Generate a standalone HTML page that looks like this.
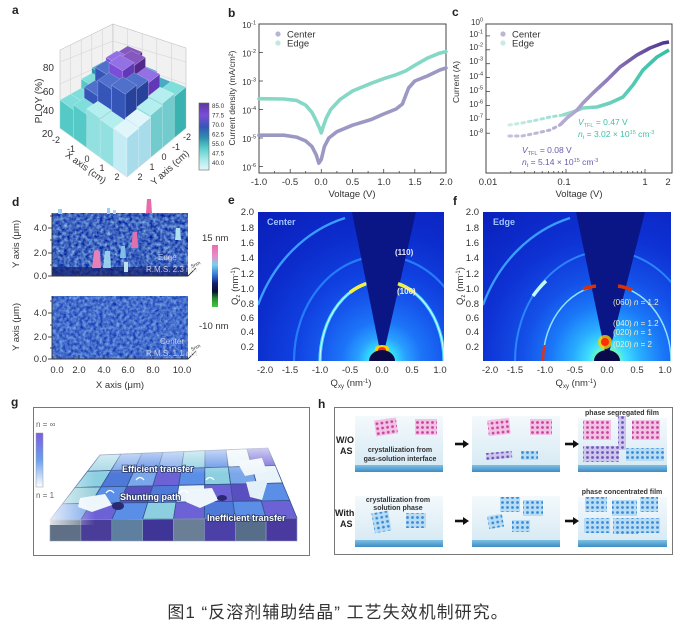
<!DOCTYPE html>
<html><head><meta charset="utf-8">
<style>
html,body{margin:0;padding:0;background:#fff}
svg{display:block}
.t1{fill:#e0f6fb}.l1{fill:#c4ecf5}.r1{fill:#a9dcea}
.t2{fill:#b5eeee}.l2{fill:#92e0e0}.r2{fill:#72cccd}
.t3{fill:#7fdedb}.l3{fill:#55c9c6}.r3{fill:#3cb2b0}
.t4{fill:#4aa9c6}.l4{fill:#2f8fb0}.r4{fill:#237596}
.t5{fill:#5070cc}.l5{fill:#3556b8}.r5{fill:#26429a}
.t6{fill:#9370e4}.l6{fill:#7a4ed8}.r6{fill:#6038b8}
.t7{fill:#8558c0}.l7{fill:#6a3aa8}.r7{fill:#52288c}
.bars polygon{stroke:#ffffff;stroke-opacity:.35;stroke-width:.5}
.tk{font-size:9.5px;fill:#333}
.sm{font-size:8px;fill:#333}
</style></head><body>
<svg width="679" height="621" viewBox="0 0 679 621" xmlns="http://www.w3.org/2000/svg" font-family="'Liberation Sans', sans-serif">
<defs>
<linearGradient id="cbA" x1="0" y1="0" x2="0" y2="1">
<stop offset="0" stop-color="#5f34a0"/><stop offset="0.18" stop-color="#7a4ed8"/><stop offset="0.36" stop-color="#3556b8"/><stop offset="0.52" stop-color="#2f8fb0"/><stop offset="0.68" stop-color="#5ccfcc"/><stop offset="0.84" stop-color="#a8e8ea"/><stop offset="1" stop-color="#e4f7fb"/>
</linearGradient>
<linearGradient id="cbD" x1="0" y1="0" x2="0" y2="1">
<stop offset="0" stop-color="#ea6cb0"/><stop offset="0.18" stop-color="#e88cc8"/><stop offset="0.32" stop-color="#7ad0ea"/><stop offset="0.5" stop-color="#2f6ad0"/><stop offset="0.62" stop-color="#14206a"/><stop offset="0.75" stop-color="#0a0f30"/><stop offset="0.86" stop-color="#2a8a30"/><stop offset="1" stop-color="#40c840"/>
</linearGradient>
<radialGradient id="gE" gradientUnits="userSpaceOnUse" cx="382" cy="361" r="200">
<stop offset="0" stop-color="#ff3000"/><stop offset="0.025" stop-color="#ffe000"/><stop offset="0.045" stop-color="#80ff80"/><stop offset="0.07" stop-color="#30d8ff"/><stop offset="0.12" stop-color="#2aa0ff"/><stop offset="0.2" stop-color="#1c74f8"/><stop offset="0.32" stop-color="#1656ec"/><stop offset="0.45" stop-color="#1040e0"/><stop offset="0.65" stop-color="#0c2ccc"/><stop offset="1" stop-color="#0a1eb8"/>
</radialGradient>
<radialGradient id="gF" gradientUnits="userSpaceOnUse" cx="607" cy="361" r="200">
<stop offset="0" stop-color="#ff3000"/><stop offset="0.025" stop-color="#ffd000"/><stop offset="0.05" stop-color="#80ffa0"/><stop offset="0.09" stop-color="#40e0ff"/><stop offset="0.17" stop-color="#28acff"/><stop offset="0.28" stop-color="#1a78f8"/><stop offset="0.42" stop-color="#1450e8"/><stop offset="0.62" stop-color="#0e32d4"/><stop offset="1" stop-color="#0a1eb8"/>
</radialGradient>
<linearGradient id="cC" gradientUnits="userSpaceOnUse" x1="505" y1="0" x2="670" y2="0">
<stop offset="0" stop-color="#c9c3da"/><stop offset="0.4" stop-color="#b3a9d0"/><stop offset="1" stop-color="#4e3190"/>
</linearGradient>
<linearGradient id="cEd" gradientUnits="userSpaceOnUse" x1="505" y1="0" x2="670" y2="0">
<stop offset="0" stop-color="#cfeee6"/><stop offset="0.5" stop-color="#7fd6c4"/><stop offset="1" stop-color="#2fbfa6"/>
</linearGradient>
<linearGradient id="hb" x1="0" y1="0" x2="0" y2="1"><stop offset="0" stop-color="#f4f9fc"/><stop offset="1" stop-color="#d4e8f3"/></linearGradient>
<linearGradient id="hs" x1="0" y1="0" x2="0" y2="1"><stop offset="0" stop-color="#7ec0e4"/><stop offset="1" stop-color="#3f8cc4"/></linearGradient>
<linearGradient id="gl" x1="0" y1="0" x2="0" y2="1"><stop offset="0" stop-color="#7a5ee0"/><stop offset="0.5" stop-color="#6aa0f0"/><stop offset="1" stop-color="#ffffff"/></linearGradient>
<linearGradient id="fadeV" gradientUnits="userSpaceOnUse" x1="0" y1="438" x2="0" y2="474"><stop offset="0" stop-color="#fff" stop-opacity="0.95"/><stop offset="1" stop-color="#fff" stop-opacity="0"/></linearGradient>
<linearGradient id="fadeH" gradientUnits="userSpaceOnUse" x1="44" y1="0" x2="95" y2="0"><stop offset="0" stop-color="#fff" stop-opacity="0.9"/><stop offset="1" stop-color="#fff" stop-opacity="0"/></linearGradient>
<pattern id="pk" width="5" height="5" patternUnits="userSpaceOnUse"><rect width="5" height="5" fill="#f2c2e4"/><circle cx="2.5" cy="2.5" r="1.4" fill="#c8449e"/></pattern>
<pattern id="bl" width="5" height="5" patternUnits="userSpaceOnUse"><rect width="5" height="5" fill="#b8dcf4"/><circle cx="2.5" cy="2.5" r="1.4" fill="#3a8cd8"/></pattern>
<pattern id="pu" width="5" height="5" patternUnits="userSpaceOnUse"><rect width="5" height="5" fill="#cfc6ec"/><circle cx="2.5" cy="2.5" r="1.4" fill="#6a58bc"/></pattern>
<filter id="nz1" x="0" y="0" width="1" height="1" color-interpolation-filters="sRGB">
<feTurbulence type="fractalNoise" baseFrequency="0.28" numOctaves="3" seed="5"/>
<feColorMatrix type="matrix" values="0.8 0 0 0 -0.15  0.9 0 0 0 -0.05  0.4 0 0 0 0.55  0 0 0 0 1"/>
</filter>
<filter id="nz2" x="0" y="0" width="1" height="1" color-interpolation-filters="sRGB">
<feTurbulence type="fractalNoise" baseFrequency="0.3" numOctaves="3" seed="9"/>
<feColorMatrix type="matrix" values="0.6 0 0 0 -0.03  0.7 0 0 0 0.08  0.3 0 0 0 0.65  0 0 0 0 1"/>
</filter>
<clipPath id="clE"><rect x="258" y="212" width="186" height="149"/></clipPath>
<clipPath id="clF"><rect x="483" y="212" width="188" height="149"/></clipPath>
</defs>
<rect width="679" height="621" fill="#fff"/>

<!-- panel labels -->
<g font-weight="bold" font-size="12" fill="#222">
<text x="12" y="14">a</text><text x="228" y="17">b</text><text x="452" y="16">c</text>
<text x="12" y="206">d</text><text x="228" y="204">e</text><text x="453" y="205">f</text>
<text x="11" y="406">g</text><text x="318" y="408">h</text>
</g>

<!-- ============ PANEL A ============ -->
<g>
<polygon points="60,128 60,50 113,24 113,98" fill="#f1f1f1" stroke="#c0c0c0" stroke-width="0.6"/>
<polygon points="113,98 113,24 186,48 186,128" fill="#f1f1f1" stroke="#c0c0c0" stroke-width="0.6"/>
<polygon points="60,128 113,98 186,128 127,177" fill="#e6e6e6" stroke="#bbb" stroke-width="0.6"/>
<g stroke="#d4d4d4" stroke-width="0.6">
<line x1="60" y1="106" x2="113" y2="79"/><line x1="60" y1="84" x2="113" y2="60"/><line x1="60" y1="62" x2="113" y2="41"/>
<line x1="113" y1="79" x2="186" y2="106"/><line x1="113" y1="60" x2="186" y2="84"/><line x1="113" y1="41" x2="186" y2="62"/>
<line x1="70.6" y1="122" x2="70.6" y2="44.8"/><line x1="81.2" y1="116" x2="81.2" y2="39.6"/><line x1="91.8" y1="110" x2="91.8" y2="34.4"/><line x1="102.4" y1="104" x2="102.4" y2="29.2"/>
<line x1="127.6" y1="104" x2="127.6" y2="28.8"/><line x1="142.2" y1="110" x2="142.2" y2="33.6"/><line x1="156.8" y1="116" x2="156.8" y2="38.4"/><line x1="171.4" y1="122" x2="171.4" y2="43.2"/>
</g>
<g class="bars">
<polygon class="l3" points="102.4,104 116.8,110.8 116.8,76.8 102.4,70"/><polygon class="r3" points="116.8,110.8 127.6,104 127.6,70 116.8,76.8"/><polygon class="t3" points="102.4,70 116.8,76.8 127.6,70 113,64"/>
<polygon class="l4" points="91.8,110 105.9,117.5 105.9,75.5 91.8,68"/><polygon class="r4" points="105.9,117.5 116.8,110.8 116.8,68.8 105.9,75.5"/><polygon class="t4" points="91.8,68 105.9,75.5 116.8,68.8 102.4,62"/>
<polygon class="l7" points="116.8,110.8 131.1,117.5 131.1,59.5 116.8,52.8"/><polygon class="r7" points="131.1,117.5 142.2,110 142.2,52 131.1,59.5"/><polygon class="t7" points="116.8,52.8 131.1,59.5 142.2,52 127.6,46"/>
<polygon class="l3" points="81.2,116 95.1,124.3 95.1,87.3 81.2,79"/><polygon class="r3" points="95.1,124.3 105.9,117.5 105.9,80.5 95.1,87.3"/><polygon class="t3" points="81.2,79 95.1,87.3 105.9,80.5 91.8,73"/>
<polygon class="l6" points="105.9,117.5 120,125 120,65 105.9,57.5"/><polygon class="r6" points="120,125 131.1,117.5 131.1,57.5 120,65"/><polygon class="t6" points="105.9,57.5 120,65 131.1,57.5 116.8,50.8"/>
<polygon class="l4" points="131.1,117.5 145.5,124.3 145.5,79.3 131.1,72.5"/><polygon class="r4" points="145.5,124.3 156.8,116 156.8,71 145.5,79.3"/><polygon class="t4" points="131.1,72.5 145.5,79.3 156.8,71 142.2,65"/>
<polygon class="l3" points="70.6,122 84.2,131 84.2,103 70.6,94"/><polygon class="r3" points="84.2,131 95.1,124.3 95.1,96.3 84.2,103"/><polygon class="t3" points="70.6,94 84.2,103 95.1,96.3 81.2,88"/>
<polygon class="l5" points="95.1,124.3 109,132.6 109,75.6 95.1,67.3"/><polygon class="r5" points="109,132.6 120,125 120,68 109,75.6"/><polygon class="t5" points="95.1,67.3 109,75.6 120,68 105.9,60.5"/>
<polygon class="l7" points="120,125 134.2,132.6 134.2,65.6 120,58"/><polygon class="r7" points="134.2,132.6 145.5,124.3 145.5,57.3 134.2,65.6"/><polygon class="t7" points="120,58 134.2,65.6 145.5,57.3 131.1,50.5"/>
<polygon class="l4" points="145.5,124.3 159.8,131 159.8,91 145.5,84.3"/><polygon class="r4" points="159.8,131 171.4,122 171.4,82 159.8,91"/><polygon class="t4" points="145.5,84.3 159.8,91 171.4,82 156.8,76"/>
<polygon class="l3" points="60,128 73.4,137.8 73.4,109.8 60,100"/><polygon class="r3" points="73.4,137.8 84.2,131 84.2,103 73.4,109.8"/><polygon class="t3" points="60,100 73.4,109.8 84.2,103 70.6,94"/>
<polygon class="l5" points="84.2,131 97.9,140.1 97.9,96.1 84.2,87"/><polygon class="r5" points="97.9,140.1 109,132.6 109,88.6 97.9,96.1"/><polygon class="t5" points="84.2,87 97.9,96.1 109,88.6 95.1,80.3"/>
<polygon class="l6" points="109,132.6 122.8,140.8 122.8,70.8 109,62.6"/><polygon class="r6" points="122.8,140.8 134.2,132.6 134.2,62.6 122.8,70.8"/><polygon class="t6" points="109,62.6 122.8,70.8 134.2,62.6 120,55"/>
<polygon class="l6" points="134.2,132.6 148.3,140.1 148.3,83.1 134.2,75.6"/><polygon class="r6" points="148.3,140.1 159.8,131 159.8,74 148.3,83.1"/><polygon class="t6" points="134.2,75.6 148.3,83.1 159.8,74 145.5,67.3"/>
<polygon class="l3" points="159.8,131 174.2,137.8 174.2,96.8 159.8,90"/><polygon class="r3" points="174.2,137.8 186,128 186,87 174.2,96.8"/><polygon class="t3" points="159.8,90 174.2,96.8 186,87 171.4,81"/>
<polygon class="l3" points="73.4,137.8 86.8,147.6 86.8,114.6 73.4,104.8"/><polygon class="r3" points="86.8,147.6 97.9,140.1 97.9,107.1 86.8,114.6"/><polygon class="t3" points="73.4,104.8 86.8,114.6 97.9,107.1 84.2,98"/>
<polygon class="l5" points="97.9,140.1 111.5,149.1 111.5,89.1 97.9,80.1"/><polygon class="r5" points="111.5,149.1 122.8,140.8 122.8,80.8 111.5,89.1"/><polygon class="t5" points="97.9,80.1 111.5,89.1 122.8,80.8 109,72.6"/>
<polygon class="l5" points="122.8,140.8 136.7,149.1 136.7,89.1 122.8,80.8"/><polygon class="r5" points="136.7,149.1 148.3,140.1 148.3,80.1 136.7,89.1"/><polygon class="t5" points="122.8,80.8 136.7,89.1 148.3,80.1 134.2,72.6"/>
<polygon class="l2" points="148.3,140.1 162.4,147.6 162.4,103.6 148.3,96.1"/><polygon class="r2" points="162.4,147.6 174.2,137.8 174.2,93.8 162.4,103.6"/><polygon class="t2" points="148.3,96.1 162.4,103.6 174.2,93.8 159.8,87"/>
<polygon class="l2" points="86.8,147.6 100.2,157.4 100.2,118.4 86.8,108.6"/><polygon class="r2" points="100.2,157.4 111.5,149.1 111.5,110.1 100.2,118.4"/><polygon class="t2" points="86.8,108.6 100.2,118.4 111.5,110.1 97.9,101.1"/>
<polygon class="l5" points="111.5,149.1 125.2,158.2 125.2,94.2 111.5,85.1"/><polygon class="r5" points="125.2,158.2 136.7,149.1 136.7,85.1 125.2,94.2"/><polygon class="t5" points="111.5,85.1 125.2,94.2 136.7,85.1 122.8,76.8"/>
<polygon class="l2" points="136.7,149.1 150.6,157.4 150.6,115.4 136.7,107.1"/><polygon class="r2" points="150.6,157.4 162.4,147.6 162.4,105.6 150.6,115.4"/><polygon class="t2" points="136.7,107.1 150.6,115.4 162.4,105.6 148.3,98.1"/>
<polygon class="l2" points="100.2,157.4 113.6,167.2 113.6,129.2 100.2,119.4"/><polygon class="r2" points="113.6,167.2 125.2,158.2 125.2,120.2 113.6,129.2"/><polygon class="t2" points="100.2,119.4 113.6,129.2 125.2,120.2 111.5,111.1"/>
<polygon class="l1" points="125.2,158.2 138.8,167.2 138.8,127.2 125.2,118.2"/><polygon class="r1" points="138.8,167.2 150.6,157.4 150.6,117.4 138.8,127.2"/><polygon class="t1" points="125.2,118.2 138.8,127.2 150.6,117.4 136.7,109.1"/>
<polygon class="l1" points="113.6,167.2 127,177 127,138 113.6,128.2"/><polygon class="r1" points="127,177 138.8,167.2 138.8,128.2 127,138"/><polygon class="t1" points="113.6,128.2 127,138 138.8,128.2 125.2,119.2"/>
</g>
<g font-size="10" fill="#333" text-anchor="end">
<text x="54" y="71">80</text><text x="54" y="95">60</text><text x="54" y="114">40</text><text x="53" y="137">20</text>
</g>
<text transform="translate(42,101) rotate(-90)" font-size="10" fill="#333" text-anchor="middle">PLQY (%)</text>
<g font-size="9" fill="#333" text-anchor="middle">
<text x="56" y="143">-2</text><text x="71" y="152">-1</text><text x="87" y="162">0</text><text x="102" y="171">1</text><text x="117" y="180">2</text>
<text x="140" y="180">2</text><text x="152" y="170">1</text><text x="164" y="160">0</text><text x="176" y="150">-1</text><text x="187" y="140">-2</text>
</g>
<text transform="translate(84,170) rotate(36)" font-size="9.5" fill="#333" text-anchor="middle">X axis (cm)</text>
<text transform="translate(172,170) rotate(-42)" font-size="9.5" fill="#333" text-anchor="middle">Y axis (cm)</text>
<rect x="199" y="103" width="10" height="67" fill="url(#cbA)" stroke="#666" stroke-width="0.6"/>
<g font-size="6.2" fill="#333">
<text x="212" y="108">85.0</text><text x="212" y="117.5">77.5</text><text x="212" y="127">70.0</text><text x="212" y="136.5">62.5</text><text x="212" y="146">55.0</text><text x="212" y="155.5">47.5</text><text x="212" y="165">40.0</text>
</g>
</g>

<!-- ============ PANEL B ============ -->
<g>
<rect x="259" y="24" width="187" height="149" fill="#fff" stroke="#444" stroke-width="1"/>
<g stroke="#444" stroke-width="0.8">
<line x1="290.2" y1="173" x2="290.2" y2="169"/><line x1="321.3" y1="173" x2="321.3" y2="169"/><line x1="352.5" y1="173" x2="352.5" y2="169"/><line x1="383.7" y1="173" x2="383.7" y2="169"/><line x1="414.8" y1="173" x2="414.8" y2="169"/>
<line x1="274.6" y1="173" x2="274.6" y2="171"/><line x1="305.7" y1="173" x2="305.7" y2="171"/><line x1="336.9" y1="173" x2="336.9" y2="171"/><line x1="368.1" y1="173" x2="368.1" y2="171"/><line x1="399.2" y1="173" x2="399.2" y2="171"/><line x1="430.4" y1="173" x2="430.4" y2="171"/>
<line x1="259" y1="52.5" x2="263" y2="52.5"/><line x1="259" y1="81" x2="263" y2="81"/><line x1="259" y1="109.5" x2="263" y2="109.5"/><line x1="259" y1="138" x2="263" y2="138"/><line x1="259" y1="166.5" x2="263" y2="166.5"/>
</g>
<polyline fill="none" stroke="#9c98c4" stroke-width="3.6" stroke-linejoin="round" stroke-linecap="round" points="259,135.2 283.9,135.2 296.4,137.1 305.7,140.9 312,146.6 316.3,155.1 318.8,163.1 321.3,159.4 324.4,146.6 328.8,138 336.9,131.7 352.5,125.2 371.2,119.5 383.7,114 396.1,109 402.4,104 405.5,96 408.6,88 414.8,81 427.3,76 439.8,70 446,68"/>
<polyline fill="none" stroke="#86d8c6" stroke-width="3.6" stroke-linejoin="round" stroke-linecap="round" points="259,98.7 283.9,99 296.4,100.4 305.7,105.2 312,112.4 316.3,120.9 319.5,128 321.3,132.9 323.2,126.6 326.3,118 330.7,109.5 340,99.5 352.5,91 371.2,83.3 383.7,78.7 396.1,74.7 405.5,71 414.8,65.3 427.3,58.2 439.8,53.1 446,51.6"/>
<circle cx="278" cy="34" r="2.6" fill="#b8b4d4"/><circle cx="278" cy="43" r="2.6" fill="#bfe8de"/>
<text x="287" y="37.5" class="tk">Center</text><text x="287" y="46.5" class="tk">Edge</text>
<g class="sm" text-anchor="end">
<text x="256" y="28">10<tspan dy="-3.5" font-size="5.5">-1</tspan></text>
<text x="256" y="56.5">10<tspan dy="-3.5" font-size="5.5">-2</tspan></text>
<text x="256" y="85">10<tspan dy="-3.5" font-size="5.5">-3</tspan></text>
<text x="256" y="113.5">10<tspan dy="-3.5" font-size="5.5">-4</tspan></text>
<text x="256" y="142">10<tspan dy="-3.5" font-size="5.5">-5</tspan></text>
<text x="256" y="170.5">10<tspan dy="-3.5" font-size="5.5">-6</tspan></text>
</g>
<g class="tk" text-anchor="middle">
<text x="259" y="185">-1.0</text><text x="290" y="185">-0.5</text><text x="321" y="185">0.0</text><text x="352.5" y="185">0.5</text><text x="384" y="185">1.0</text><text x="415" y="185">1.5</text><text x="446" y="185">2.0</text>
<text x="352" y="197">Voltage (V)</text>
</g>
<text transform="translate(235,98) rotate(-90)" font-size="8.5" fill="#333" text-anchor="middle">Current density (mA/cm²)</text>
</g>

<!-- ============ PANEL C ============ -->
<g>
<rect x="486" y="24" width="186" height="149" fill="#fff" stroke="#444" stroke-width="1"/>
<g stroke="#444" stroke-width="0.8">
<line x1="566" y1="173" x2="566" y2="169"/><line x1="645" y1="173" x2="645" y2="169"/>
<line x1="510.8" y1="173" x2="510.8" y2="171"/><line x1="524.7" y1="173" x2="524.7" y2="171"/><line x1="534.6" y1="173" x2="534.6" y2="171"/><line x1="542.2" y1="173" x2="542.2" y2="171"/><line x1="548.5" y1="173" x2="548.5" y2="171"/><line x1="553.8" y1="173" x2="553.8" y2="171"/><line x1="558.3" y1="173" x2="558.3" y2="171"/><line x1="562.4" y1="173" x2="562.4" y2="171"/>
<line x1="589.8" y1="173" x2="589.8" y2="171"/><line x1="603.7" y1="173" x2="603.7" y2="171"/><line x1="613.6" y1="173" x2="613.6" y2="171"/><line x1="621.2" y1="173" x2="621.2" y2="171"/><line x1="627.5" y1="173" x2="627.5" y2="171"/><line x1="632.8" y1="173" x2="632.8" y2="171"/><line x1="637.3" y1="173" x2="637.3" y2="171"/><line x1="641.4" y1="173" x2="641.4" y2="171"/>
<line x1="486" y1="35.9" x2="490" y2="35.9"/><line x1="486" y1="49.8" x2="490" y2="49.8"/><line x1="486" y1="63.7" x2="490" y2="63.7"/><line x1="486" y1="77.6" x2="490" y2="77.6"/><line x1="486" y1="91.5" x2="490" y2="91.5"/><line x1="486" y1="105.4" x2="490" y2="105.4"/><line x1="486" y1="119.3" x2="490" y2="119.3"/><line x1="486" y1="133.2" x2="490" y2="133.2"/>
</g>
<polyline fill="none" stroke="url(#cC)" stroke-width="3" stroke-dasharray="2.5 4" stroke-linecap="round" points="509,136 522,136 537,133 550,130 560,125"/>
<polyline fill="none" stroke="url(#cEd)" stroke-width="3" stroke-dasharray="2.5 4" stroke-linecap="round" points="509,125 522,123 537,120 550,117 563,115"/>
<polyline fill="none" stroke="url(#cEd)" stroke-width="3.6" stroke-linejoin="round" points="563,115 573,112 583,108 597,107 610,103 623,97 633,85 643,70 657,57 669,50"/>
<polyline fill="none" stroke="url(#cC)" stroke-width="3.6" stroke-linejoin="round" points="560,125 567,118 577,110 583,103 593,93 607,80 620,67 637,55 650,48 663,43 669,42"/>
<circle cx="503" cy="34" r="2.6" fill="#bdb6d0"/><circle cx="503" cy="43" r="2.6" fill="#c8ebe3"/>
<text x="512" y="37.5" class="tk">Center</text><text x="512" y="46.5" class="tk">Edge</text>
<g font-size="8.5" fill="#3fbfa8">
<text x="578" y="125"><tspan font-style="italic">V</tspan><tspan font-size="5.5" dy="2">TFL</tspan><tspan dy="-2"> = 0.47 V</tspan></text>
<text x="578" y="137"><tspan font-style="italic">n</tspan><tspan font-size="5.5" dy="2">t</tspan><tspan dy="-2"> = 3.02 × 10</tspan><tspan font-size="5.5" dy="-3">15</tspan><tspan dy="3"> cm</tspan><tspan font-size="5.5" dy="-3">-3</tspan></text>
</g>
<g font-size="8.5" fill="#6a5ab0">
<text x="522" y="153"><tspan font-style="italic">V</tspan><tspan font-size="5.5" dy="2">TFL</tspan><tspan dy="-2"> = 0.08 V</tspan></text>
<text x="522" y="165"><tspan font-style="italic">n</tspan><tspan font-size="5.5" dy="2">t</tspan><tspan dy="-2"> = 5.14 × 10</tspan><tspan font-size="5.5" dy="-3">15</tspan><tspan dy="3"> cm</tspan><tspan font-size="5.5" dy="-3">-3</tspan></text>
</g>
<g class="sm" text-anchor="end">
<text x="483" y="25">10<tspan dy="-3.5" font-size="5.5">0</tspan></text>
<text x="483" y="37">10<tspan dy="-3.5" font-size="5.5">-1</tspan></text>
<text x="483" y="50">10<tspan dy="-3.5" font-size="5.5">-2</tspan></text>
<text x="483" y="64">10<tspan dy="-3.5" font-size="5.5">-3</tspan></text>
<text x="483" y="79">10<tspan dy="-3.5" font-size="5.5">-4</tspan></text>
<text x="483" y="93">10<tspan dy="-3.5" font-size="5.5">-5</tspan></text>
<text x="483" y="107">10<tspan dy="-3.5" font-size="5.5">-6</tspan></text>
<text x="483" y="121">10<tspan dy="-3.5" font-size="5.5">-7</tspan></text>
<text x="483" y="136">10<tspan dy="-3.5" font-size="5.5">-8</tspan></text>
</g>
<g class="tk" text-anchor="middle">
<text x="488" y="185">0.01</text><text x="564" y="185">0.1</text><text x="645" y="185">1</text><text x="668" y="185">2</text>
<text x="579" y="197">Voltage (V)</text>
</g>
<text transform="translate(459,82) rotate(-90)" font-size="8.5" fill="#333" text-anchor="middle">Current (A)</text>
</g>

<!-- ============ PANEL D ============ -->
<g>
<rect x="52" y="213" width="136" height="63" fill="#000" filter="url(#nz1)"/>
<rect x="52" y="267" width="136" height="9" fill="#142070" opacity="0.7"/>
<path d="M92,268 L94,252 Q97,248 100,252 L101,268 Z" fill="#e880b8"/>
<path d="M103,268 L105,251 L110,251 L111,268 Z" fill="#a0d8f0" opacity="0.9"/>
<rect x="124" y="262" width="4" height="10" fill="#c0e0f0"/>
<path d="M131,248 L133,232 L137,232 L138,248 Z" fill="#e070b0"/>
<path d="M120,258 L121,246 L125,246 L126,258 Z" fill="#80c0e8"/>
<path d="M146,213 L147,199 L151,199 L152,213 Z" fill="#e86aa8"/>
<path d="M175,240 L176,228 L180,228 L181,240 Z" fill="#b0e0f0"/>
<rect x="58" y="209" width="4" height="5" fill="#9ad0ee"/><rect x="107" y="208" width="3" height="6" fill="#9ad0ee"/><rect x="113" y="210" width="3" height="4" fill="#b0d8f0"/>
<rect x="52" y="296" width="136" height="63" fill="#000" filter="url(#nz2)"/>
<g stroke="#333" stroke-width="0.9">
<line x1="52" y1="213" x2="52" y2="276"/><line x1="52" y1="276" x2="188" y2="276"/>
<line x1="48" y1="228" x2="52" y2="228"/><line x1="48" y1="253" x2="52" y2="253"/><line x1="48" y1="276" x2="52" y2="276"/>
<line x1="50" y1="216" x2="52" y2="216"/><line x1="50" y1="240" x2="52" y2="240"/><line x1="50" y1="265" x2="52" y2="265"/>
<line x1="52" y1="296" x2="52" y2="359"/><line x1="52" y1="359" x2="188" y2="359"/>
<line x1="48" y1="313" x2="52" y2="313"/><line x1="48" y1="337" x2="52" y2="337"/><line x1="48" y1="359" x2="52" y2="359"/>
<line x1="50" y1="301" x2="52" y2="301"/><line x1="50" y1="325" x2="52" y2="325"/><line x1="50" y1="348" x2="52" y2="348"/>
<line x1="57" y1="359" x2="57" y2="355"/><line x1="79" y1="359" x2="79" y2="355"/><line x1="104" y1="359" x2="104" y2="355"/><line x1="128" y1="359" x2="128" y2="355"/><line x1="153" y1="359" x2="153" y2="355"/><line x1="182" y1="359" x2="182" y2="355"/>
<line x1="57" y1="276" x2="57" y2="272"/><line x1="79" y1="276" x2="79" y2="272"/><line x1="104" y1="276" x2="104" y2="272"/><line x1="128" y1="276" x2="128" y2="272"/><line x1="153" y1="276" x2="153" y2="272"/><line x1="182" y1="276" x2="182" y2="272"/>
<line x1="188" y1="276" x2="196" y2="268"/><line x1="188" y1="359" x2="196" y2="351"/>
</g>
<g font-size="8" fill="#e0dcea" opacity="0.85">
<text x="158" y="260">Edge</text><text x="146" y="272">R.M.S. 2.3 nm</text>
<text x="160" y="344">Center</text><text x="146" y="356">R.M.S. 1.1 nm</text>
</g>
<text transform="translate(192,268) rotate(-25)" font-size="5" fill="#333">5nm</text>
<text transform="translate(192,351) rotate(-25)" font-size="5" fill="#333">5nm</text>
<g class="tk" text-anchor="end">
<text x="47" y="231">4.0</text><text x="47" y="256">2.0</text><text x="47" y="279">0.0</text>
<text x="47" y="316">4.0</text><text x="47" y="340">2.0</text><text x="47" y="362">0.0</text>
</g>
<g class="tk" text-anchor="middle">
<text x="57" y="373">0.0</text><text x="79" y="373">2.0</text><text x="104" y="373">4.0</text><text x="128" y="373">6.0</text><text x="153" y="373">8.0</text><text x="182" y="373">10.0</text>
<text x="120" y="388">X axis (μm)</text>
</g>
<text transform="translate(19,244) rotate(-90)" class="tk" text-anchor="middle">Y axis (μm)</text>
<text transform="translate(19,327) rotate(-90)" class="tk" text-anchor="middle">Y axis (μm)</text>
<rect x="212" y="245" width="6" height="62" fill="url(#cbD)"/>
<text x="202" y="241" class="tk">15 nm</text>
<text x="199" y="329" class="tk">-10 nm</text>
</g>

<!-- ============ PANEL E ============ -->
<g clip-path="url(#clE)">
<rect x="258" y="212" width="186" height="149" fill="url(#gE)"/>
<ellipse cx="382" cy="361" rx="88" ry="105" fill="none" stroke="#2a8cff" stroke-width="2.2" opacity="0.8"/>
<path d="M258,305 A133,149 0 0 1 345,218" fill="none" stroke="#3a9cff" stroke-width="2.4"/>
<ellipse cx="382" cy="361" rx="62" ry="80" fill="none" stroke="#50d8ff" stroke-width="3.2"/>
<ellipse cx="382" cy="361" rx="62" ry="80" fill="none" stroke="#d0ffff" stroke-width="1"/>
<polygon points="382,361 352,212 416,212" fill="#0a1686"/>
<path d="M350,292.4 A62,80 0 0 1 366,283.7" fill="none" stroke="#f4f040" stroke-width="3.5"/>
<path d="M398,283.7 A62,80 0 0 1 414,292.4" fill="none" stroke="#f4f040" stroke-width="3.5"/>
<ellipse cx="382" cy="349" rx="7" ry="4" fill="#ffd000"/>
<ellipse cx="382" cy="350" rx="4" ry="3" fill="#ff3000"/>
<ellipse cx="382" cy="361" rx="13" ry="11" fill="#0a0a4a"/>
<text x="267" y="225" font-size="9" font-weight="bold" fill="#9fc4ff">Center</text>
<text x="395" y="255" font-size="8" font-weight="bold" fill="#e8e8ff">(110)</text>
<text x="397" y="294" font-size="8" font-weight="bold" fill="#f0f0d0">(100)</text>
</g>
<g class="tk" text-anchor="end">
<text x="254" y="215">2.0</text><text x="254" y="231">1.8</text><text x="254" y="246">1.6</text><text x="254" y="261">1.4</text><text x="254" y="277">1.2</text><text x="254" y="292">1.0</text><text x="254" y="307">0.8</text><text x="254" y="321">0.6</text><text x="254" y="335">0.4</text><text x="254" y="350">0.2</text>
</g>
<g class="tk" text-anchor="middle">
<text x="265" y="373">-2.0</text><text x="290" y="373">-1.5</text><text x="320" y="373">-1.0</text><text x="350" y="373">-0.5</text><text x="382" y="373">0.0</text><text x="412" y="373">0.5</text><text x="440" y="373">1.0</text>
<text x="351" y="386">Q<tspan font-size="6" dy="2">xy</tspan><tspan dy="-2"> (nm</tspan><tspan font-size="6" dy="-3">-1</tspan><tspan dy="3">)</tspan></text>
</g>
<text transform="translate(238,286) rotate(-90)" class="tk" text-anchor="middle">Q<tspan font-size="6" dy="2">z</tspan><tspan dy="-2"> (nm</tspan><tspan font-size="6" dy="-3">-1</tspan><tspan dy="3">)</tspan></text>

<!-- ============ PANEL F ============ -->
<g clip-path="url(#clF)">
<rect x="483" y="212" width="188" height="149" fill="url(#gF)"/>
<ellipse cx="607" cy="361" rx="92" ry="110" fill="none" stroke="#3090ff" stroke-width="2" opacity="0.85"/>
<path d="M483,305 A133,149 0 0 1 570,218" fill="none" stroke="#3a9cff" stroke-width="2.4"/>
<ellipse cx="607" cy="361" rx="64" ry="76" fill="none" stroke="#a0f0ff" stroke-width="1.5" opacity="0.9"/>
<polygon points="607,361 576,212 645,212" fill="#0a1686"/>
<path d="M533,296 A92,110 0 0 1 546,281" fill="none" stroke="#c0fcff" stroke-width="3.5"/>
<path d="M583,289 A64,76 0 0 1 596,286" fill="none" stroke="#e03000" stroke-width="3.5"/>
<path d="M618,286 A64,76 0 0 1 632,290" fill="none" stroke="#e03000" stroke-width="3.5"/>
<path d="M543,361 A64,76 0 0 1 544.4,345" fill="none" stroke="#e03020" stroke-width="2.5"/>
<circle cx="605" cy="342" r="7" fill="#ffd000" opacity="0.8"/>
<circle cx="605" cy="342" r="4" fill="#ff3000"/>
<ellipse cx="607" cy="361" rx="13" ry="11" fill="#0a0a4a"/>
<text x="493" y="225" font-size="9" font-weight="bold" fill="#9fc4ff">Edge</text>
<g font-size="8" fill="#f0ecc8">
<text x="613" y="305">(060) <tspan font-style="italic">n</tspan> = 1.2</text>
<text x="613" y="326">(040) <tspan font-style="italic">n</tspan> = 1.2</text>
<text x="613" y="335">(020) <tspan font-style="italic">n</tspan> = 1</text>
<text x="613" y="347">(020) <tspan font-style="italic">n</tspan> = 2</text>
</g>
</g>
<g class="tk" text-anchor="end">
<text x="479" y="215">2.0</text><text x="479" y="231">1.8</text><text x="479" y="246">1.6</text><text x="479" y="261">1.4</text><text x="479" y="277">1.2</text><text x="479" y="292">1.0</text><text x="479" y="307">0.8</text><text x="479" y="321">0.6</text><text x="479" y="335">0.4</text><text x="479" y="350">0.2</text>
</g>
<g class="tk" text-anchor="middle">
<text x="490" y="373">-2.0</text><text x="515" y="373">-1.5</text><text x="545" y="373">-1.0</text><text x="575" y="373">-0.5</text><text x="607" y="373">0.0</text><text x="637" y="373">0.5</text><text x="665" y="373">1.0</text>
<text x="576" y="386">Q<tspan font-size="6" dy="2">xy</tspan><tspan dy="-2"> (nm</tspan><tspan font-size="6" dy="-3">-1</tspan><tspan dy="3">)</tspan></text>
</g>
<text transform="translate(463,286) rotate(-90)" class="tk" text-anchor="middle">Q<tspan font-size="6" dy="2">z</tspan><tspan dy="-2"> (nm</tspan><tspan font-size="6" dy="-3">-1</tspan><tspan dy="3">)</tspan></text>

<!-- ============ PANEL G ============ -->
<g>
<rect x="33.5" y="407.5" width="276" height="148" fill="#fff" stroke="#777" stroke-width="1"/>
<g stroke="#34548c" stroke-width="0.8">
<polygon points="100,455 121,454.1 111,470.5 87.5,471.3" fill="#a6d8e6"/>
<polygon points="121,454.1 142,453.3 134.4,469.8 111,470.5" fill="#7aa6ea"/>
<polygon points="142,453.3 163,452.4 157.9,469.1 134.4,469.8" fill="#5b8ee6"/>
<polygon points="163,452.4 184,451.5 181.4,468.4 157.9,469.1" fill="#7aa6ea"/>
<polygon points="184,451.5 205,450.6 204.9,467.7 181.4,468.4" fill="#8ccfe0"/>
<polygon points="205,450.6 226,449.8 228.3,467 204.9,467.7" fill="#5b8ee6"/>
<polygon points="226,449.8 247,448.9 251.8,466.3 228.3,467" fill="#e8f4fa"/>
<polygon points="247,448.9 268,448 275.3,465.5 251.8,466.3" fill="#6c62d6"/>
<polygon points="87.5,471.3 111,470.5 101,486.9 75,487.5" fill="#8ccfe0"/>
<polygon points="111,470.5 134.4,469.8 126.9,486.4 101,486.9" fill="#4f79d8"/>
<polygon points="134.4,469.8 157.9,469.1 152.8,485.9 126.9,486.4" fill="#7aa6ea"/>
<polygon points="157.9,469.1 181.4,468.4 178.8,485.3 152.8,485.9" fill="#6c62d6"/>
<polygon points="181.4,468.4 204.9,467.7 204.7,484.7 178.8,485.3" fill="#5b8ee6"/>
<polygon points="204.9,467.7 228.3,467 230.6,484.2 204.7,484.7" fill="#8ccfe0"/>
<polygon points="228.3,467 251.8,466.3 256.6,483.6 230.6,484.2" fill="#7aa6ea"/>
<polygon points="251.8,466.3 275.3,465.5 282.5,483 256.6,483.6" fill="#e8f4fa"/>
<polygon points="75,487.5 101,486.9 91,503.4 62.5,503.8" fill="#9ad0dc"/>
<polygon points="101,486.9 126.9,486.4 119.3,503 91,503.4" fill="#5b8ee6"/>
<polygon points="126.9,486.4 152.8,485.9 147.7,502.6 119.3,503" fill="#5a4fc0"/>
<polygon points="152.8,485.9 178.8,485.3 176.1,502.1 147.7,502.6" fill="#4f79d8"/>
<polygon points="178.8,485.3 204.7,484.7 204.6,501.7 176.1,502.1" fill="#e8f4fa"/>
<polygon points="204.7,484.7 230.6,484.2 232.9,501.3 204.6,501.7" fill="#6c62d6"/>
<polygon points="230.6,484.2 256.6,483.6 261.3,501 232.9,501.3" fill="#5a4fc0"/>
<polygon points="256.6,483.6 282.5,483 289.8,500.5 261.3,501" fill="#5b8ee6"/>
<polygon points="62.5,503.8 91,503.4 80.9,519.8 50,520" fill="#7aa6ea"/>
<polygon points="91,503.4 119.3,503 111.8,519.5 80.9,519.8" fill="#6c62d6"/>
<polygon points="119.3,503 147.7,502.6 142.6,519.3 111.8,519.5" fill="#5b8ee6"/>
<polygon points="147.7,502.6 176.1,502.1 173.5,519 142.6,519.3" fill="#8ccfe0"/>
<polygon points="176.1,502.1 204.6,501.7 204.4,518.8 173.5,519" fill="#6c62d6"/>
<polygon points="204.6,501.7 232.9,501.3 235.3,518.5 204.4,518.8" fill="#4f79d8"/>
<polygon points="232.9,501.3 261.3,501 266.1,518.3 235.3,518.5" fill="#5b8ee6"/>
<polygon points="261.3,501 289.8,500.5 297,518 266.1,518.3" fill="#6c62d6"/>
</g>
<polygon points="80,498 105,494 112,505 92,512 78,507" fill="#eef6fb"/>
<polygon points="185,490 212,488 218,500 200,508 186,502" fill="#eef6fb"/>
<polygon points="237,462 262,458 267,472 245,476" fill="#eef6fb"/>
<polygon points="246,482 268,480 262,500 250,497" fill="#e4f0f8"/>
<ellipse cx="118" cy="506" rx="6" ry="4" fill="#2a2a70"/>
<ellipse cx="222" cy="498" rx="5" ry="3" fill="#2a2a70"/>
<g stroke="#8da0b8" stroke-width="0.6">
<polygon points="50,520 80.9,519.8 80.9,541 50,541" fill="#5e6f86"/>
<polygon points="80.9,519.8 111.8,519.5 111.8,541 80.9,541" fill="#4a3d9a"/>
<polygon points="111.8,519.5 142.6,519.3 142.6,541 111.8,541" fill="#5e7fa0"/>
<polygon points="142.6,519.3 173.5,519 173.5,541 142.6,541" fill="#3f3596"/>
<polygon points="173.5,519 204.4,518.8 204.4,541 173.5,541" fill="#6a7f96"/>
<polygon points="204.4,518.8 235.3,518.5 235.3,541 204.4,541" fill="#4b3fa8"/>
<polygon points="235.3,518.5 266.1,518.3 266.1,541 235.3,541" fill="#566e8a"/>
<polygon points="266.1,518.3 297,518 297,541 266.1,541" fill="#4a3aa0"/>
</g>
<rect x="44" y="436" width="262" height="40" fill="url(#fadeV)"/>
<rect x="44" y="440" width="55" height="85" fill="url(#fadeH)"/>
<g font-size="9" font-weight="bold" fill="#fff" stroke="#2a3a6a" stroke-width="1.6" paint-order="stroke">
<text x="122" y="472">Efficient transfer</text>
<text x="120" y="500">Shunting path</text>
<text x="207" y="521">Inefficient transfer</text>
</g>
<g fill="none" stroke="#fff" stroke-width="1.2">
<path d="M136,480 q4,-5 8,0"/><path d="M206,480 q4,-5 8,0"/><path d="M106,493 q4,-5 8,0"/><path d="M180,493 q4,-5 8,0"/>
</g>
<rect x="36" y="433" width="7" height="54" fill="url(#gl)" stroke="#999" stroke-width="0.5"/>
<text x="36" y="427" font-size="8" fill="#666">n = ∞</text>
<text x="36" y="498" font-size="8" fill="#666">n = 1</text>
</g>

<!-- ============ PANEL H ============ -->
<g>
<rect x="334.5" y="407.5" width="338" height="147" fill="#fff" stroke="#777" stroke-width="1"/>
<rect x="355" y="416" width="88" height="56" fill="url(#hb)"/>
<rect x="472" y="416" width="88" height="56" fill="url(#hb)"/>
<rect x="578" y="418" width="89" height="54" fill="url(#hb)"/>
<rect x="355" y="496" width="88" height="51" fill="url(#hb)"/>
<rect x="472" y="496" width="88" height="51" fill="url(#hb)"/>
<rect x="578" y="497" width="89" height="50" fill="url(#hb)"/>
<rect x="355" y="465" width="88" height="7" fill="url(#hs)"/>
<rect x="472" y="465" width="88" height="7" fill="url(#hs)"/>
<rect x="578" y="465" width="89" height="7" fill="url(#hs)"/>
<rect x="355" y="540" width="88" height="7" fill="url(#hs)"/>
<rect x="472" y="540" width="88" height="7" fill="url(#hs)"/>
<rect x="578" y="540" width="89" height="7" fill="url(#hs)"/>
<rect x="375" y="419" width="22" height="16" fill="url(#pk)" transform="rotate(-8 386 427)"/>
<rect x="415" y="419" width="22" height="16" fill="url(#pk)"/>
<rect x="488" y="419" width="22" height="16" fill="url(#pk)" transform="rotate(-6 499 427)"/>
<rect x="530" y="419" width="22" height="16" fill="url(#pk)"/>
<rect x="486" y="452" width="26" height="7" fill="url(#pu)" transform="rotate(-5 499 455)"/>
<rect x="521" y="451" width="17" height="9" fill="url(#bl)"/>
<rect x="583" y="420" width="28" height="20" fill="url(#pk)"/>
<rect x="632" y="420" width="28" height="20" fill="url(#pk)"/>
<rect x="618" y="416" width="8" height="34" fill="url(#pu)"/>
<rect x="583" y="446" width="36" height="16" fill="url(#pu)"/>
<rect x="626" y="448" width="38" height="13" fill="url(#bl)"/>
<rect x="373" y="512" width="17" height="20" fill="url(#bl)" transform="rotate(-10 381 522)"/>
<rect x="406" y="513" width="20" height="15" fill="url(#bl)"/>
<rect x="500" y="497" width="20" height="15" fill="url(#bl)"/>
<rect x="523" y="500" width="20" height="16" fill="url(#bl)"/>
<rect x="488" y="515" width="15" height="13" fill="url(#bl)" transform="rotate(-10 495 521)"/>
<rect x="512" y="520" width="18" height="12" fill="url(#bl)"/>
<rect x="585" y="497" width="22" height="15" fill="url(#bl)"/>
<rect x="612" y="500" width="25" height="16" fill="url(#bl)"/>
<rect x="640" y="497" width="18" height="15" fill="url(#bl)"/>
<rect x="584" y="518" width="26" height="15" fill="url(#bl)"/>
<rect x="613" y="518" width="25" height="16" fill="url(#bl)"/>
<rect x="638" y="518" width="22" height="15" fill="url(#bl)"/>
<g fill="#111" stroke="#111">
<line x1="455" y1="444" x2="464" y2="444" stroke-width="2.6"/><polygon points="463,440 469,444 463,448" stroke="none"/>
<line x1="565" y1="444" x2="574" y2="444" stroke-width="2.6"/><polygon points="573,440 579,444 573,448" stroke="none"/>
<line x1="455" y1="521" x2="464" y2="521" stroke-width="2.6"/><polygon points="463,517 469,521 463,525" stroke="none"/>
<line x1="565" y1="521" x2="574" y2="521" stroke-width="2.6"/><polygon points="573,517 579,521 573,525" stroke="none"/>
</g>
<g font-weight="bold" fill="#222">
<text x="336" y="443" font-size="9">W/O</text><text x="340" y="454" font-size="9">AS</text>
<text x="335" y="516" font-size="9">With</text><text x="340" y="527" font-size="9">AS</text>
</g>
<g font-weight="bold" fill="#333" font-size="7" text-anchor="middle">
<text x="400" y="452">crystallization from</text><text x="400" y="461">gas-solution interface</text>
<text x="398" y="502">crystallization from</text><text x="398" y="510">solution phase</text>
<text x="622" y="415">phase segregated film</text>
<text x="622" y="494">phase concentrated film</text>
</g>
</g>

<text x="338" y="618" text-anchor="middle" font-size="17" letter-spacing="1" fill="#333" font-family="'Liberation Sans','Noto Sans CJK SC',sans-serif">图1 “反溶剂辅助结晶” 工艺失效机制研究。</text>
</svg>
</body></html>
